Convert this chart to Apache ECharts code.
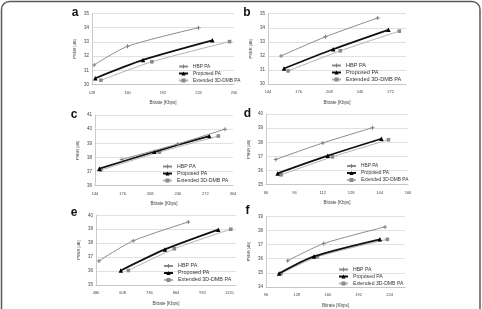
<!DOCTYPE html>
<html>
<head>
<meta charset="utf-8">
<script src="https://cdn.jsdelivr.net/npm/echarts@6/dist/echarts.min.js"></script>
<style>
  html, body { margin: 0; padding: 0; background: #fff; }
  #main { width: 482px; height: 309px; }
</style>
</head>
<body>
<div id="main"></div>
<script>
var seriesNames = ['HBP PA', 'Proposed PA', 'Extended 3D-DMB PA'];
var panelLetters = ['a', 'b', 'c', 'd', 'e', 'f'];

// [bitrate, psnr]
var hbpA = [[130, 31.38], [160, 32.69], [224, 34.0]];
var propA = [[131, 30.44], [174, 31.73], [236.5, 33.11]];
var extA = [[136, 30.3], [182, 31.6], [252, 33.02]];

var hbpB = [[157.6, 32.0], [204, 33.36], [258.5, 34.7]];
var propB = [[160.7, 31.1], [212, 32.47], [269.6, 33.85]];
var extB = [[165, 30.93], [219.5, 32.36], [281, 33.76]];

var hbpC = [[175, 37.86], [240, 38.95], [294.7, 40.0]];
var propC = [[149, 37.2], [212.8, 38.4], [276.5, 39.51]];
var extC = [[150.6, 37.1], [218.6, 38.38], [287, 39.51]];

var hbpD = [[85.5, 36.79], [112, 37.95], [140, 39.03]];
var propD = [[86.6, 35.8], [114.8, 37.05], [145, 38.25]];
var extD = [[88.5, 35.7], [117.4, 36.97], [149, 38.18]];

var hbpE = [[494, 36.73], [659, 38.17], [923, 39.52]];
var propE = [[599, 36.04], [811, 37.55], [1067, 38.97]];
var extE = [[635, 36.04], [856, 37.6], [1127, 39.0]];

var hbpF = [[118.5, 35.86], [155.8, 37.07], [219.3, 38.25]];
var propF = [[109.5, 34.95], [145.7, 36.16], [214, 37.37]];
var extF = [[111.5, 34.95], [149.2, 36.14], [221.7, 37.37]];

// tick labels of each panel
var xTicksA = [128, 160, 192, 224, 256];
var xTicksB = [144, 176, 208, 240, 272];
var xTicksC = [144, 176, 208, 240, 272, 304];
var xTicksD = [80, 96, 112, 128, 144, 160];
var xTicksE = [480, 608, 736, 864, 992, 1120];
var xTicksF = [96, 128, 160, 192, 224];
var xAxisEnd = [256, 288, 304, 160, 1152, 240];

var yTicksA = [30, 31, 32, 33, 34, 35];
var yTicksC = [36, 37, 38, 39, 40, 41];
var yTicksD = [35, 36, 37, 38, 39, 40];
var yTicksF = [34, 35, 36, 37, 38, 39];

var panelData = [
  [hbpA, propA, extA], [hbpB, propB, extB], [hbpC, propC, extC],
  [hbpD, propD, extD], [hbpE, propE, extE], [hbpF, propF, extF]
];
var panelXTicks = [xTicksA, xTicksB, xTicksC, xTicksD, xTicksE, xTicksF];
var panelYTicks = [yTicksA, yTicksA, yTicksC, yTicksD, yTicksD, yTicksF];

// layout of the six plots
var boxes = [
  { left: 92, top: 13.5, width: 142, height: 71 },
  { left: 268, top: 13.7, width: 138, height: 70.3 },
  { left: 95, top: 115, width: 138, height: 70.7 },
  { left: 266, top: 114, width: 142, height: 70.7 },
  { left: 96, top: 215.3, width: 140, height: 69.7 },
  { left: 266, top: 216.3, width: 139, height: 71.7 }
];
var legendPos = [
  { left: 178, top: 63.5, size: 4.8 },
  { left: 331, top: 62.5, size: 5.6 },
  { left: 162, top: 163.5, size: 5.2 },
  { left: 346, top: 163, size: 4.8 },
  { left: 163, top: 263, size: 5.4 },
  { left: 338, top: 266.5, size: 5.1 }
];
var letterPos = [[75, 13], [247, 13], [74, 114.5], [247.5, 113.5], [74, 212.5], [247.5, 211]];

var FONT = 'Liberation Sans';
var plusPath = 'path://M3,0H5V3H8V5H5V8H3V5H0V3H3Z';

var seriesStyle = [
  { color: '#8c8c8c', width: 1, symbol: plusPath, size: 4, mark: '#7f7f7f' },
  { color: '#111111', width: 1.8, symbol: 'triangle', size: 4.5, mark: '#000000' },
  { color: '#b4b4b4', width: 1, symbol: 'rect', size: 3.6, mark: '#8a8a8a' }
];

var grids = [], xAxes = [], yAxes = [], series = [], legends = [], graphics = [];

for (var p = 0; p < 6; p++) {
  var xt = panelXTicks[p];
  var yt = panelYTicks[p];
  grids.push({ left: boxes[p].left, top: boxes[p].top, width: boxes[p].width, height: boxes[p].height });

  xAxes.push({
    type: 'value', gridIndex: p,
    min: xt[0], max: xAxisEnd[p], interval: xt[1] - xt[0],
    name: 'Bitrate [Kbps]', nameLocation: 'middle', nameGap: 16,
    nameTextStyle: { fontSize: 4.5, color: '#444', fontFamily: FONT },
    axisLine: { lineStyle: { color: '#bfbfbf', width: 0.8 } },
    axisTick: { show: false },
    splitLine: { show: false },
    axisLabel: {
      fontSize: 4, color: '#444', margin: 6, fontFamily: FONT,
      showMaxLabel: xAxisEnd[p] === xt[xt.length - 1],
      formatter: function (v) { return String(v); }
    }
  });

  yAxes.push({
    type: 'value', gridIndex: p,
    min: yt[0], max: yt[yt.length - 1], interval: 1,
    name: 'PSNR [dB]', nameLocation: 'middle', nameGap: 15,
    nameTextStyle: { fontSize: 4, color: '#444', fontFamily: FONT },
    axisLine: { show: true, lineStyle: { color: '#bfbfbf', width: 0.8 } },
    axisTick: { show: false },
    splitLine: { lineStyle: { color: '#d9d9d9', width: 0.8 } },
    axisLabel: { fontSize: 4.5, color: '#444', margin: 3, fontFamily: FONT }
  });

  for (var s = 0; s < 3; s++) {
    var st = seriesStyle[s];
    series.push({
      type: 'line', name: seriesNames[s],
      xAxisIndex: p, yAxisIndex: p,
      data: panelData[p][s],
      smooth: 0.25,
      symbol: st.symbol, symbolSize: st.size,
      lineStyle: { color: st.color, width: st.width },
      itemStyle: { color: st.mark },
      z: 3 - s,
      animation: false
    });
  }

  legends.push({
    orient: 'vertical',
    left: legendPos[p].left, top: legendPos[p].top,
    data: seriesNames,
    itemWidth: 9, itemHeight: 5, itemGap: 1,
    padding: 0,
    selectedMode: false,
    textStyle: { fontSize: legendPos[p].size, lineHeight: 6, color: '#333', fontFamily: FONT }
  });

  graphics.push({
    type: 'text', x: letterPos[p][0], y: letterPos[p][1],
    style: {
      text: panelLetters[p], fontSize: 12, fontWeight: 'bold', fill: '#111',
      fontFamily: FONT, textAlign: 'center', textVerticalAlign: 'middle'
    }
  });
}

// rounded frame round the whole figure
graphics.push({
  type: 'rect',
  shape: { x: 1.5, y: 1.5, width: 478.5, height: 330, r: 8 },
  style: { fill: 'none', stroke: '#5a5a5a', lineWidth: 1.5 },
  silent: true
});

var chart = echarts.init(document.getElementById('main'));
chart.setOption({
  backgroundColor: '#ffffff',
  animation: false,
  grid: grids,
  xAxis: xAxes,
  yAxis: yAxes,
  legend: legends,
  series: series,
  graphic: graphics
});
</script>
</body>
</html>
